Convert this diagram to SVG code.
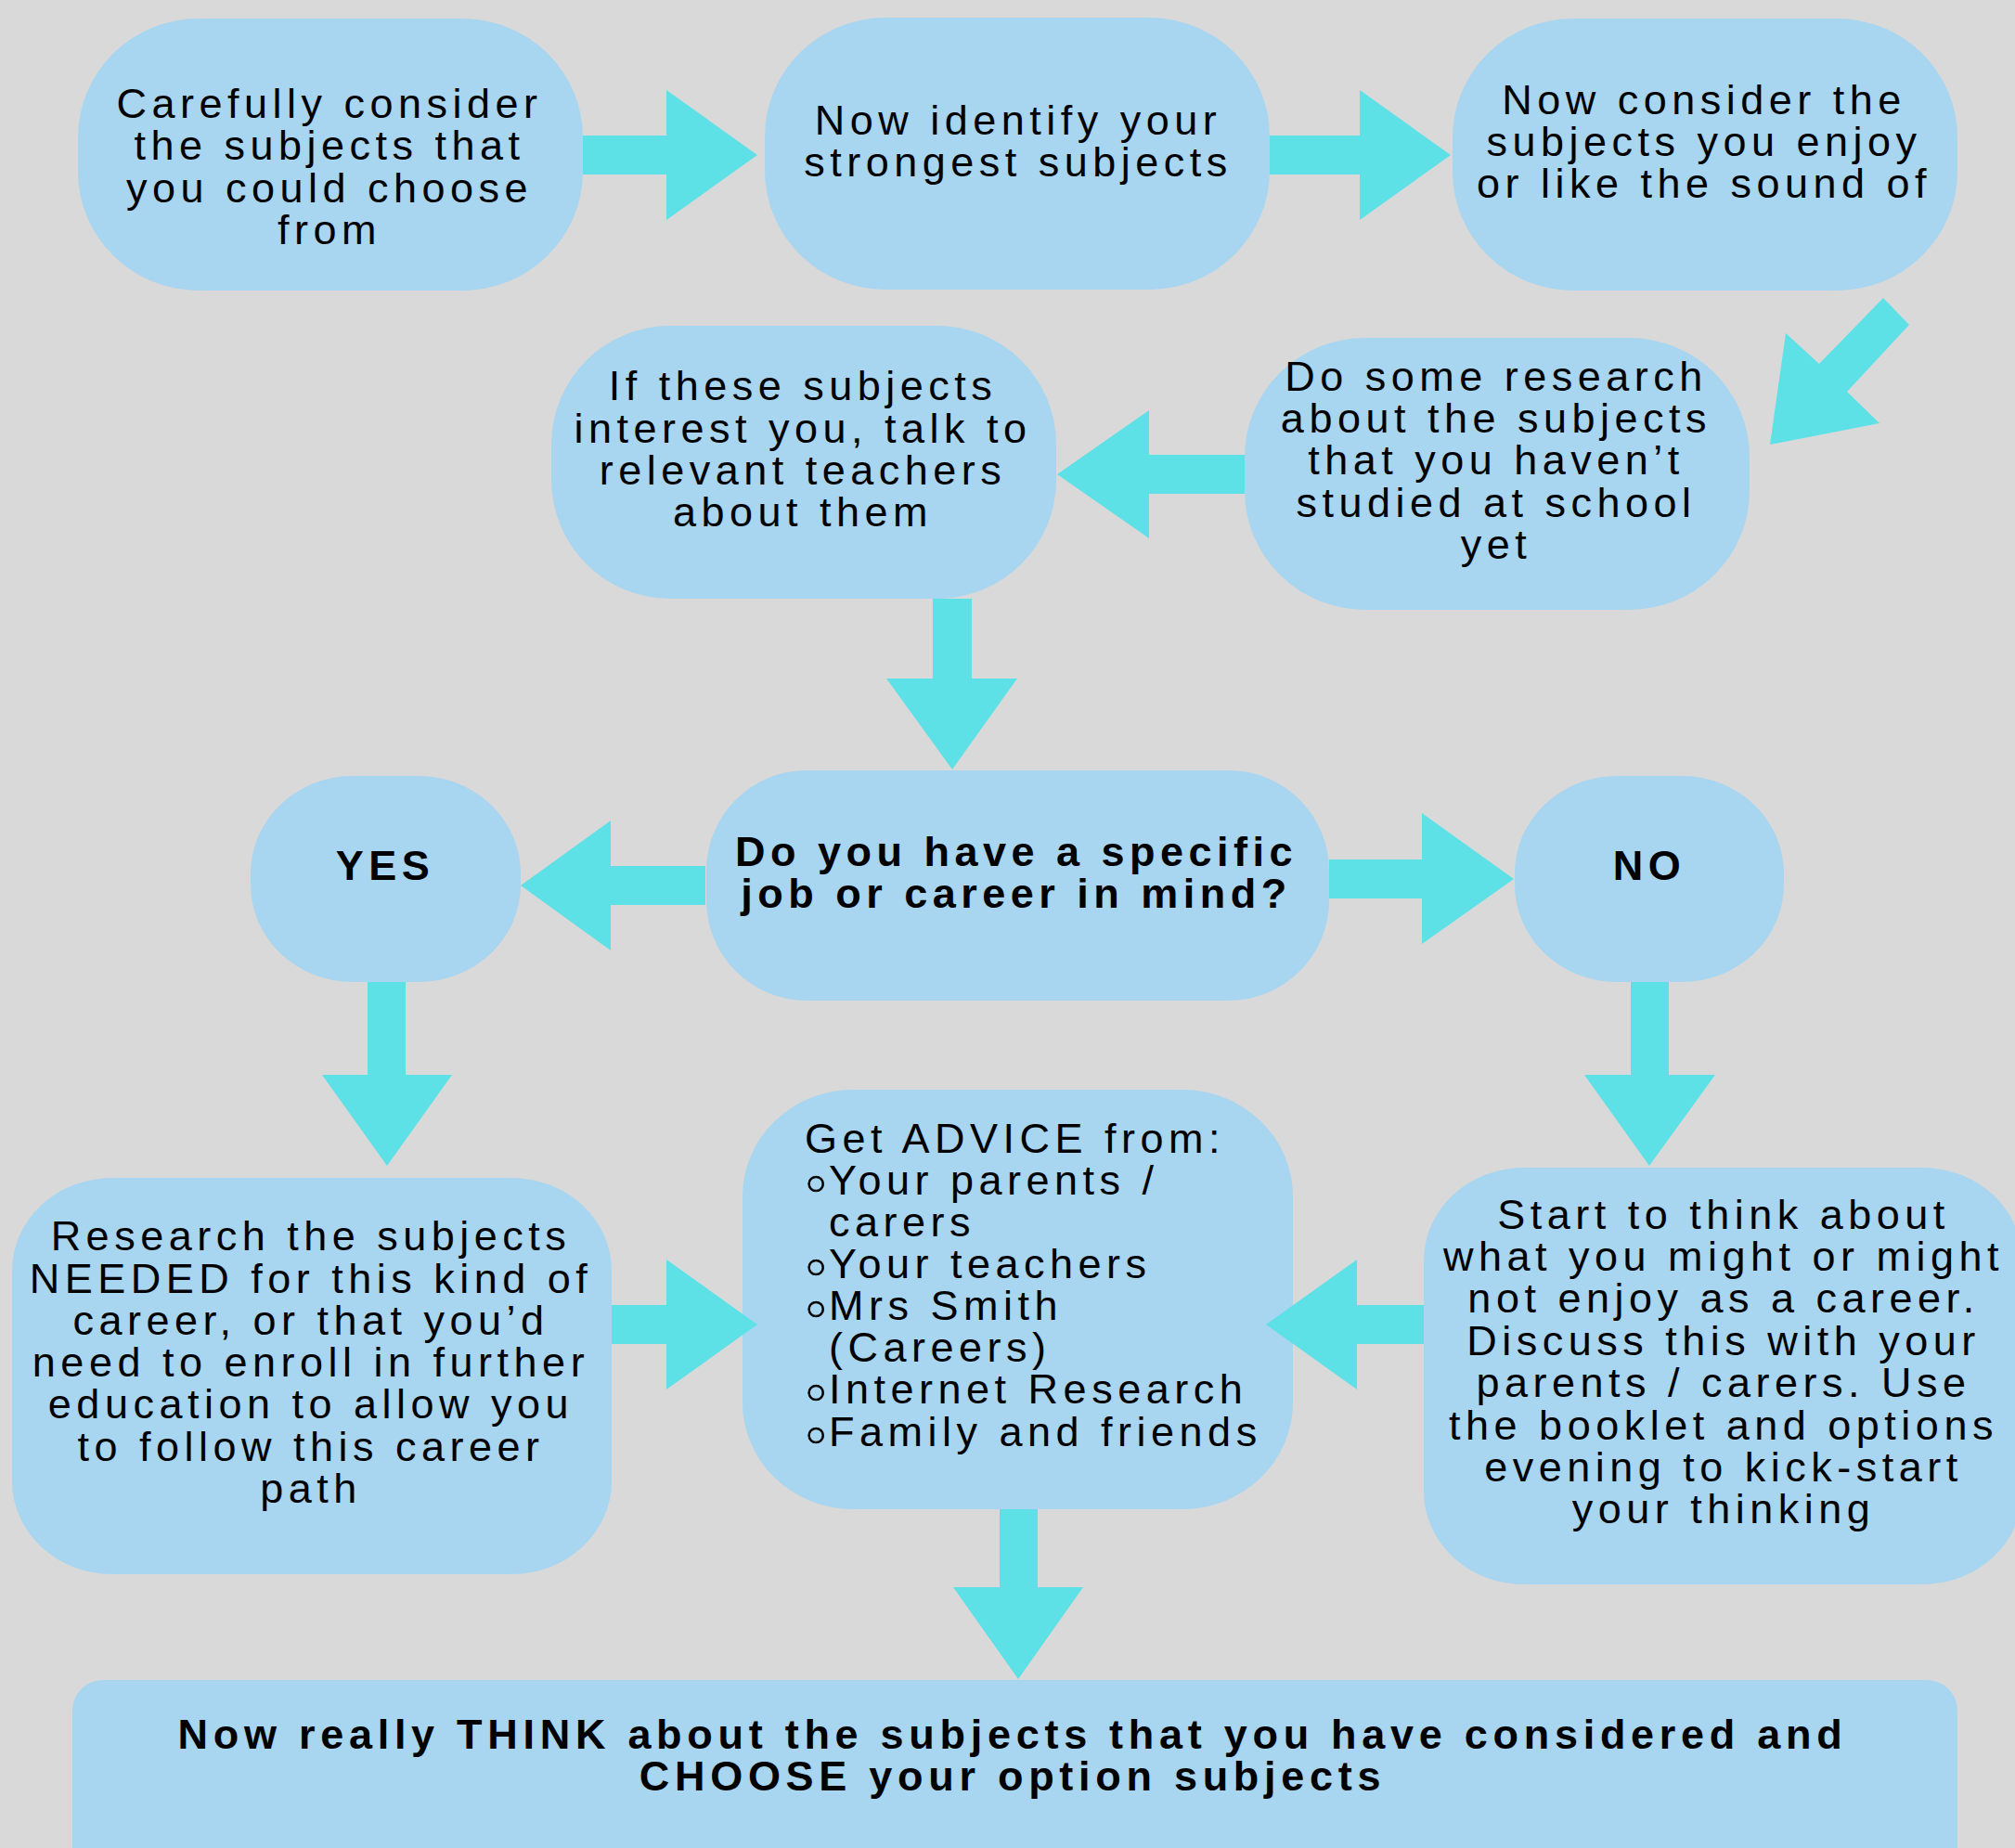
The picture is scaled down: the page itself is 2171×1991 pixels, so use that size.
<svg xmlns="http://www.w3.org/2000/svg" width="2171" height="1991" viewBox="0 0 2171 1991">
<style>
.bg{fill:#d9d9d9}
.n{fill:#a8d5ef}
.a{fill:#5ee1e6}
.t{font-family:"Liberation Sans",Arial,"DejaVu Sans",sans-serif;font-size:45px;letter-spacing:5.5px;fill:#000;text-anchor:middle}
.l{text-anchor:start}
.b{font-weight:bold}
.f{letter-spacing:5.72px}
.u{font-family:"DejaVu Sans",sans-serif;font-size:58px;letter-spacing:0;stroke:#000;stroke-width:0.8px}
</style>
<rect class="bg" x="0" y="0" width="2171" height="1991"/>
<g id="nodes">
<g id="n1"><rect class="n" x="84" y="20" width="544" height="293" rx="130" ry="128"/>
<text class="t"><tspan x="355" y="127">Carefully consider</tspan><tspan x="355" y="172">the subjects that</tspan><tspan x="355" y="218">you could choose</tspan><tspan x="355" y="263">from</tspan></text></g>
<g id="n2"><rect class="n" x="824" y="19" width="544" height="293" rx="130" ry="128"/>
<text class="t"><tspan x="1097" y="145">Now identify your</tspan><tspan x="1097" y="190">strongest subjects</tspan></text></g>
<g id="n3"><rect class="n" x="1565" y="20" width="544" height="293" rx="130" ry="128"/>
<text class="t"><tspan x="1836" y="123">Now consider the</tspan><tspan x="1836" y="168">subjects you enjoy</tspan><tspan x="1836" y="213">or like the sound of</tspan></text></g>
<g id="n4"><rect class="n" x="1341" y="364" width="544" height="293" rx="130" ry="128"/>
<text class="t"><tspan x="1612" y="421">Do some research</tspan><tspan x="1612" y="466">about the subjects</tspan><tspan x="1612" y="511">that you haven’t</tspan><tspan x="1612" y="557">studied at school</tspan><tspan x="1612" y="602">yet</tspan></text></g>
<g id="n5"><rect class="n" x="594" y="351" width="544" height="294" rx="128" ry="128"/>
<text class="t"><tspan x="865" y="431">If these subjects</tspan><tspan x="865" y="477">interest you, talk to</tspan><tspan x="865" y="522">relevant teachers</tspan><tspan x="865" y="567">about them</tspan></text></g>
<g id="q"><rect class="n" x="761" y="830" width="671" height="248" rx="108" ry="108"/>
<text class="t b"><tspan x="1095" y="933">Do you have a specific</tspan><tspan x="1095" y="978">job or career in mind?</tspan></text></g>
<g id="yes"><rect class="n" x="270" y="836" width="291" height="222" rx="110" ry="105"/>
<text class="t b" x="415" y="948">YES</text></g>
<g id="no"><rect class="n" x="1632" y="836" width="290" height="222" rx="110" ry="105"/>
<text class="t b" x="1777" y="948">NO</text></g>
<g id="research"><rect class="n" x="13" y="1269" width="646" height="427" rx="108" ry="100"/>
<text class="t"><tspan x="335" y="1347">Research the subjects</tspan><tspan x="335" y="1393">NEEDED for this kind of</tspan><tspan x="335" y="1438">career, or that you’d</tspan><tspan x="335" y="1483">need to enroll in further</tspan><tspan x="335" y="1528">education to allow you</tspan><tspan x="335" y="1574">to follow this career</tspan><tspan x="335" y="1619">path</tspan></text></g>
<g id="advice"><rect class="n" x="800" y="1174" width="593" height="452" rx="119" ry="115"/>
<text class="t l"><tspan x="867" y="1242">Get ADVICE from:</tspan>
<tspan class="u" x="862" y="1297">◦</tspan><tspan x="893" y="1287">Your parents /</tspan>
<tspan x="893" y="1332">carers</tspan>
<tspan class="u" x="862" y="1387">◦</tspan><tspan x="893" y="1377">Your teachers</tspan>
<tspan class="u" x="862" y="1432">◦</tspan><tspan x="893" y="1422">Mrs Smith</tspan>
<tspan x="893" y="1467">(Careers)</tspan>
<tspan class="u" x="862" y="1522">◦</tspan><tspan x="893" y="1512">Internet Research</tspan>
<tspan class="u" x="862" y="1568">◦</tspan><tspan x="893" y="1558">Family and friends</tspan></text></g>
<g id="start"><rect class="n" x="1534" y="1258" width="645" height="449" rx="108" ry="100"/>
<text class="t"><tspan x="1857" y="1324">Start to think about</tspan><tspan x="1857" y="1369">what you might or might</tspan><tspan x="1857" y="1414">not enjoy as a career.</tspan><tspan x="1857" y="1460">Discuss this with your</tspan><tspan x="1857" y="1505">parents / carers. Use</tspan><tspan x="1857" y="1551">the booklet and options</tspan><tspan x="1857" y="1596">evening to kick-start</tspan><tspan x="1857" y="1641">your thinking</tspan></text></g>
<g id="final"><rect class="n" x="78" y="1810" width="2031" height="230" rx="33" ry="33"/>
<text class="t b f"><tspan x="1091" y="1884">Now really THINK about the subjects that you have considered and</tspan><tspan x="1091" y="1929">CHOOSE your option subjects</tspan></text></g>
</g>
<g id="connectors">
<polygon class="a" points="628,146 718,146 718,97 816,167 718,237 718,188 628,188"/>
<polygon class="a" points="1368,146 1465,146 1465,97 1563,167 1465,237 1465,188 1368,188"/>
<polygon class="a" points="2029,321 2057,350 1990,422 2025,456 1907,479 1924,359 1960,392"/>
<polygon class="a" points="1341,490 1238,490 1238,442 1139,511 1238,580 1238,532 1341,532"/>
<polygon class="a" points="1005,645 1047,645 1047,731 1096,731 1026,829 955,731 1005,731"/>
<polygon class="a" points="760,933 658,933 658,884 561,954 658,1024 658,975 760,975"/>
<polygon class="a" points="1432,926 1532,926 1532,876 1631,947 1532,1017 1532,968 1432,968"/>
<polygon class="a" points="396,1058 437,1058 437,1158 487,1158 417,1256 347,1158 396,1158"/>
<polygon class="a" points="1757,1058 1798,1058 1798,1158 1848,1158 1777,1256 1707,1158 1757,1158"/>
<polygon class="a" points="659,1406 718,1406 718,1357 816,1427 718,1497 718,1448 659,1448"/>
<polygon class="a" points="1534,1406 1462,1406 1462,1357 1364,1427 1462,1497 1462,1448 1534,1448"/>
<polygon class="a" points="1077,1626 1118,1626 1118,1710 1167,1710 1097,1809 1027,1710 1077,1710"/>
</g>
</svg>
